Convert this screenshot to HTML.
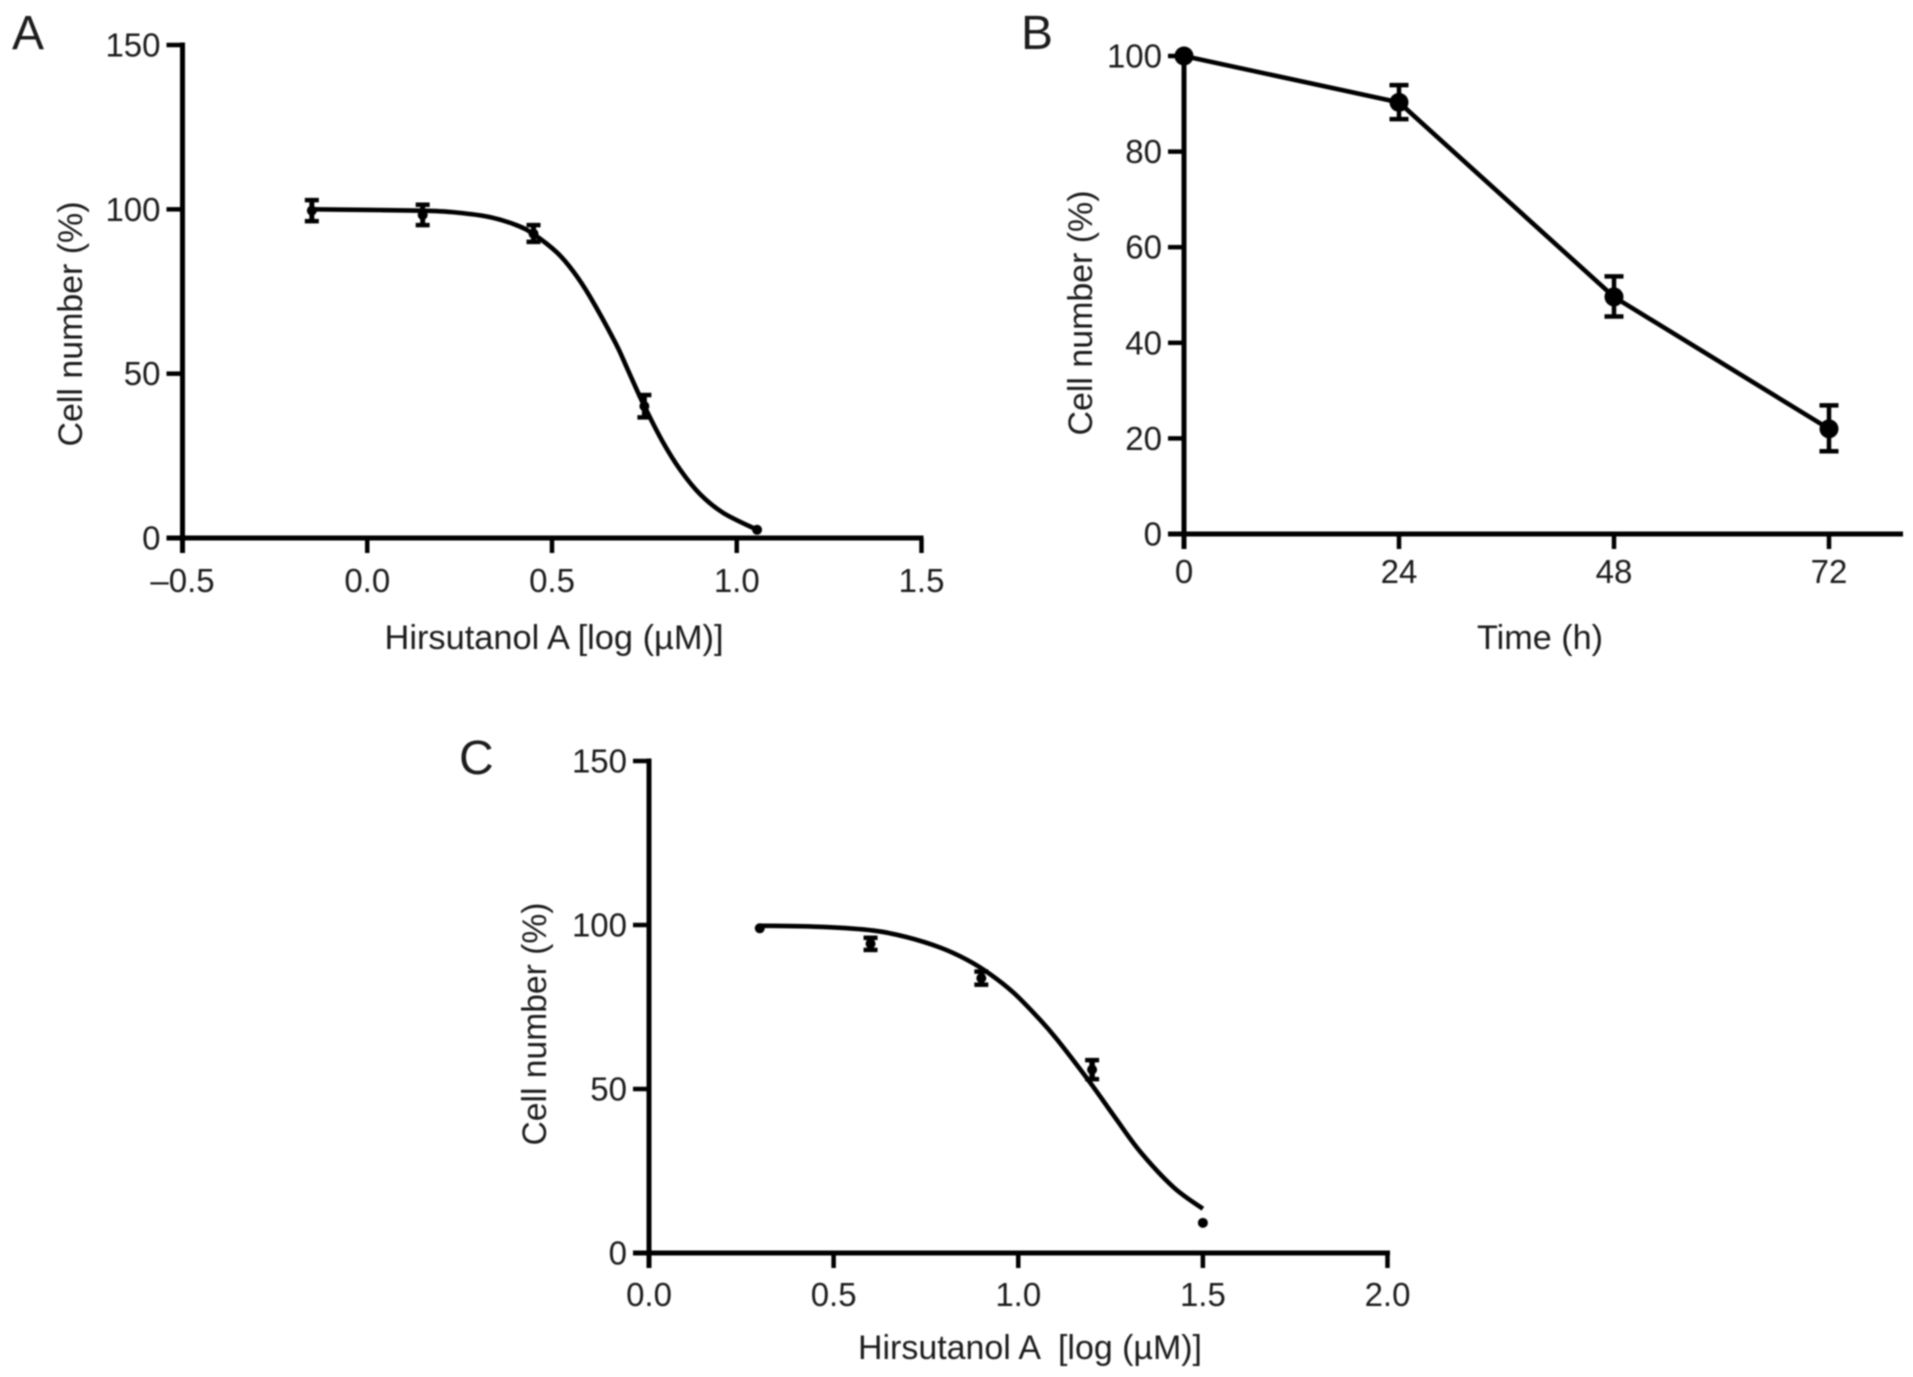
<!DOCTYPE html>
<html lang="en">
<head>
<meta charset="utf-8">
<title>Hirsutanol A cell number charts</title>
<style>
html,body{margin:0;padding:0;background:#fff;}
#figure{display:block;width:1913px;height:1377px;background:#fff;filter:blur(0.75px);}
text{font-family:"Liberation Sans",Arial,sans-serif;fill:#1c1c1c;white-space:pre;}
</style>
</head>
<body>
<svg id="figure" xmlns="http://www.w3.org/2000/svg" width="1913" height="1377" viewBox="0 0 1913 1377"></svg>
<script>
// Panel A data
const aTicksX = [-0.5, 0.0, 0.5, 1.0, 1.5];
const aTickLabelsX = ["–0.5", "0.0", "0.5", "1.0", "1.5"];
const aTicksY = [0, 50, 100, 150];
const aTickLabelsY = ["0", "50", "100", "150"];
const aPointX = [-0.15, 0.15, 0.45, 0.75, 1.055];
const aPointY = [99.6, 98.3, 92.6, 40.1, 2.5];
const aPointHigh = [102.8, 101.4, 95.2, 43.5, 2.5];
const aPointLow = [96.4, 95.2, 90.1, 36.7, 2.5];
const aCurveX = [-0.15, 0.15, 0.2435, 0.3335, 0.4058, 0.4507, 0.514, 0.559, 0.604, 0.672, 0.7035, 0.748, 0.798, 0.848, 0.902, 0.964, 1.055];
const aCurveY = [100, 99.6, 99, 97.6, 95.1, 92.4, 86.8, 80.9, 73.2, 59.3, 51.6, 40.6, 29.6, 20.6, 13.2, 7.6, 2.5];

// Panel B data
const bTicksX = [0, 24, 48, 72];
const bTickLabelsX = ["0", "24", "48", "72"];
const bTicksY = [0, 20, 40, 60, 80, 100];
const bTickLabelsY = ["0", "20", "40", "60", "80", "100"];
const bPointX = [0, 24, 48, 72];
const bPointY = [100, 90.3, 49.6, 22];
const bPointHigh = [100, 93.9, 53.9, 26.9];
const bPointLow = [100, 86.8, 45.5, 17.3];

// Panel C data
const cTicksX = [0.0, 0.5, 1.0, 1.5, 2.0];
const cTickLabelsX = ["0.0", "0.5", "1.0", "1.5", "2.0"];
const cTicksY = [0, 50, 100, 150];
const cTickLabelsY = ["0", "50", "100", "150"];
const cPointX = [0.3, 0.6, 0.9, 1.2, 1.5];
const cPointY = [99, 94.3, 83.8, 55.9, 9.2];
const cPointHigh = [99, 96.1, 85.8, 58.8, 9.2];
const cPointLow = [99, 92.4, 81.8, 53, 9.2];
const cCurveX = [0.3, 0.472, 0.608, 0.698, 0.789, 0.861, 0.924, 0.988, 1.055, 1.105, 1.195, 1.263, 1.331, 1.421, 1.5];
const cCurveY = [99.8, 99.4, 98.3, 96.3, 93.1, 89.4, 85.0, 79.3, 71.6, 65.1, 51.9, 41.2, 30.8, 20.0, 13.5];

const SVG_NS = 'http://www.w3.org/2000/svg';
const root = document.getElementById('figure');

function make(tag, parent) {
  const el = document.createElementNS(SVG_NS, tag);
  parent.appendChild(el);
  return el;
}
function setAll(el, props) {
  Object.keys(props).forEach(function (k) { el.setAttribute(k, props[k]); });
}
function axisScale(dMin, dMax, pMin, pMax) {
  return function (v) { return pMin + (v - dMin) * (pMax - pMin) / (dMax - dMin); };
}
function smoothPath(pts) {
  let d = 'M' + pts[0][0].toFixed(2) + ' ' + pts[0][1].toFixed(2);
  for (let i = 0; i < pts.length - 1; i++) {
    const p0 = pts[Math.max(i - 1, 0)], p1 = pts[i], p2 = pts[i + 1], p3 = pts[Math.min(i + 2, pts.length - 1)];
    const c1x = p1[0] + (p2[0] - p0[0]) / 6, c1y = p1[1] + (p2[1] - p0[1]) / 6;
    const c2x = p2[0] - (p3[0] - p1[0]) / 6, c2y = p2[1] - (p3[1] - p1[1]) / 6;
    d += 'C' + c1x.toFixed(2) + ' ' + c1y.toFixed(2) + ' ' + c2x.toFixed(2) + ' ' + c2y.toFixed(2) + ' ' + p2[0].toFixed(2) + ' ' + p2[1].toFixed(2);
  }
  return d;
}

function drawPanel(cfg) {
  const g = make('g', root);
  
  
  const sx = axisScale(cfg.xMin, cfg.xMax, cfg.left, cfg.right);
  const sy = axisScale(cfg.yMin, cfg.yMax, cfg.bottom, cfg.top);

  const letter = make('text', g);
  
  
  setAll(letter, {x: cfg.letterX, y: cfg.letterY, 'font-size': 48});
  letter.textContent = cfg.letter;

  const yAxis = make('line', g);
  
  
  setAll(yAxis, {x1: cfg.left, x2: cfg.left, y1: sy(cfg.yMax) - 2.5, y2: cfg.bottom + 15, stroke: '#000', 'stroke-width': 5});

  const xAxis = make('line', g);
  
  
  setAll(xAxis, {x1: cfg.left - 16, x2: cfg.axisEnd, y1: cfg.bottom, y2: cfg.bottom, stroke: '#000', 'stroke-width': 5});

  cfg.ticksX.forEach(function (v, i) {
    const t = make('line', g);
    
    
    setAll(t, {x1: sx(v), x2: sx(v), y1: cfg.bottom, y2: cfg.bottom + 15, stroke: '#000', 'stroke-width': 4.5});
    const l = make('text', g);
    
    
    setAll(l, {x: sx(v), y: cfg.xLabelBase, 'font-size': 33, 'text-anchor': 'middle'});
    l.textContent = cfg.labelsX[i];
  });

  cfg.ticksY.forEach(function (v, i) {
    const t = make('line', g);
    
    
    setAll(t, {x1: cfg.left - 16, x2: cfg.left, y1: sy(v), y2: sy(v), stroke: '#000', 'stroke-width': 4.5});
    const l = make('text', g);
    
    
    setAll(l, {x: cfg.left - 22, y: sy(v) + 11.5, 'font-size': 33, 'text-anchor': 'end'});
    l.textContent = cfg.labelsY[i];
  });

  const xTitle = make('text', g);
  
  
  setAll(xTitle, {x: cfg.xTitleX, y: cfg.xTitleY, 'font-size': 34, 'text-anchor': 'middle', textLength: cfg.xTitleLen, lengthAdjust: 'spacingAndGlyphs'});
  xTitle.textContent = cfg.xTitle;

  const yTitle = make('text', g);
  
  
  setAll(yTitle, {x: 0, y: 0, 'font-size': 34, 'text-anchor': 'middle', textLength: cfg.yTitleLen, lengthAdjust: 'spacingAndGlyphs', transform: 'translate(' + cfg.yTitleX + ' ' + cfg.yTitleY + ') rotate(-90)'});
  yTitle.textContent = 'Cell number (%)';

  const line = make('path', g);
  
  
  const pts = cfg.lineX.map(function (v, i) { return [sx(v), sy(cfg.lineY[i])]; });
  setAll(line, {d: cfg.straight ? 'M' + pts.map(function (p) { return p[0] + ' ' + p[1]; }).join('L') : smoothPath(pts), fill: 'none', stroke: '#000', 'stroke-width': 4.6, 'stroke-linejoin': 'round'});

  cfg.pointX.forEach(function (v, i) {
    const cx = sx(v);
    if (cfg.pointHigh[i] !== cfg.pointLow[i]) {
      const bar = make('line', g);
      
      
      setAll(bar, {x1: cx, x2: cx, y1: sy(cfg.pointHigh[i]), y2: sy(cfg.pointLow[i]), stroke: '#000', 'stroke-width': cfg.barWidth});
      [cfg.pointHigh[i], cfg.pointLow[i]].forEach(function (e) {
        const cap = make('line', g);
        
        
        setAll(cap, {x1: cx - cfg.capHalf, x2: cx + cfg.capHalf, y1: sy(e), y2: sy(e), stroke: '#000', 'stroke-width': 4.5});
      });
    }
    const dot = make('circle', g);
    
    
    setAll(dot, {cx: cx, cy: sy(cfg.pointY[i]), r: cfg.radius, fill: '#000'});
  });
}

drawPanel({
  name: 'panel-a', letter: 'A', letterX: 12, letterY: 49,
  xMin: -0.5, xMax: 1.5, yMin: 0, yMax: 150,
  left: 182.5, right: 921.5, top: 45, bottom: 538, axisEnd: 923.5,
  ticksX: aTicksX, labelsX: aTickLabelsX, ticksY: aTicksY, labelsY: aTickLabelsY,
  xLabelBase: 592,
  xTitle: 'Hirsutanol A [log (µM)]', xTitleX: 554, xTitleY: 649, xTitleLen: 339,
  yTitleX: 82, yTitleY: 324, yTitleLen: 245,
  lineX: aCurveX, lineY: aCurveY, straight: false,
  pointX: aPointX, pointY: aPointY, pointHigh: aPointHigh, pointLow: aPointLow,
  radius: 5, capHalf: 7, barWidth: 5
});

drawPanel({
  name: 'panel-b', letter: 'B', letterX: 1021, letterY: 49,
  xMin: 0, xMax: 72, yMin: 0, yMax: 100,
  left: 1184, right: 1829, top: 56, bottom: 534, axisEnd: 1903,
  ticksX: bTicksX, labelsX: bTickLabelsX, ticksY: bTicksY, labelsY: bTickLabelsY,
  xLabelBase: 583,
  xTitle: 'Time (h)', xTitleX: 1540, xTitleY: 649, xTitleLen: 126,
  yTitleX: 1092, yTitleY: 313, yTitleLen: 245,
  lineX: bPointX, lineY: bPointY, straight: true,
  pointX: bPointX, pointY: bPointY, pointHigh: bPointHigh, pointLow: bPointLow,
  radius: 9.5, capHalf: 9.5, barWidth: 4.5
});

drawPanel({
  name: 'panel-c', letter: 'C', letterX: 459, letterY: 774,
  xMin: 0, xMax: 2, yMin: 0, yMax: 150,
  left: 649, right: 1387.5, top: 761, bottom: 1253, axisEnd: 1390,
  ticksX: cTicksX, labelsX: cTickLabelsX, ticksY: cTicksY, labelsY: cTickLabelsY,
  xLabelBase: 1306,
  xTitle: 'Hirsutanol A  [log (µM)]', xTitleX: 1030, xTitleY: 1359, xTitleLen: 344,
  yTitleX: 546, yTitleY: 1024, yTitleLen: 243,
  lineX: cCurveX, lineY: cCurveY, straight: false,
  pointX: cPointX, pointY: cPointY, pointHigh: cPointHigh, pointLow: cPointLow,
  radius: 5, capHalf: 7, barWidth: 5.5
});
</script>
</body>
</html>
